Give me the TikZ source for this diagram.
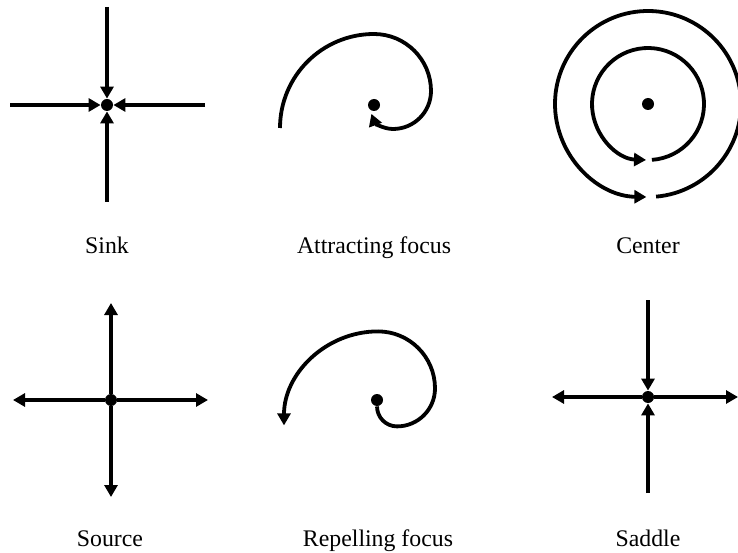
\documentclass[tikz,border=0pt]{standalone}
\usepackage{fontspec}
\setmainfont{Liberation Serif}
\usetikzlibrary{arrows.meta}
\tikzset{
  pt/.style={circle, fill, inner sep=0pt, minimum size=6pt},
  traj/.style={line width=1.9pt},
  arr/.style={traj, -{Triangle[length=6pt, width=6.5pt]}},
  lbl/.style={anchor=base, font=\fontsize{11.9}{14}\selectfont}
}

\begin{document}
\begin{tikzpicture}[x=0.5pt, y=0.5pt]
\useasboundingbox (0,0) rectangle (738,552);
% top row
\node[pt] (sink) at (107,447) {};
\coordinate (sinkN) at (107,545);
\coordinate (sinkS) at (107,350);
\coordinate (sinkW) at (10,447);
\coordinate (sinkE) at (205,447);
\foreach \e in {N,S,W,E} \draw[arr] (sink\e) -- (sink);

\node[pt] (att) at (374,447) {};
\coordinate (attS) at (280,424);
\draw[arr] (attS) arc (180:90:94) arc (90:0:57) arc (0:-90:38) arc (-90:-160:23);

\node[pt] (ctr) at (648,448) {};
\draw[arr] ([shift={(-86:56)}]ctr.center) arc (-86:268:56);
\draw[arr] ([shift={(-85:93)}]ctr.center) arc (-85:269:93);

\node[lbl] (sinkL) at (107,299) {Sink};
\node[lbl] (attL) at (374,299) {Attracting focus};
\node[lbl] (ctrL) at (648,299) {Center};

% bottom row
\node[pt] (src) at (111,152) {};
\coordinate (srcN) at (111,249);
\coordinate (srcS) at (111,55);
\coordinate (srcW) at (13,152);
\coordinate (srcE) at (208,152);
\foreach \e in {N,S,W,E} \draw[arr] (src) -- (src\e);

\node[pt] (rep) at (377,152) {};
\draw[arr] (rep.south) arc (180:270:20) arc (270:360:38) arc (0:90:57) arc (90:180:94);

\node[pt] (sad) at (648,155) {};
\coordinate (sadN) at (648,252);
\coordinate (sadS) at (648,59);
\coordinate (sadW) at (552,155);
\coordinate (sadE) at (738,155);
\foreach \e in {N,S} \draw[arr] (sad\e) -- (sad);
\foreach \e in {W,E} \draw[arr] (sad) -- (sad\e);

\node[lbl] (srcL) at (110,6) {Source};
\node[lbl] (repL) at (378,6) {Repelling focus};
\node[lbl] (sadL) at (648,6) {Saddle};
\end{tikzpicture}
\end{document}
